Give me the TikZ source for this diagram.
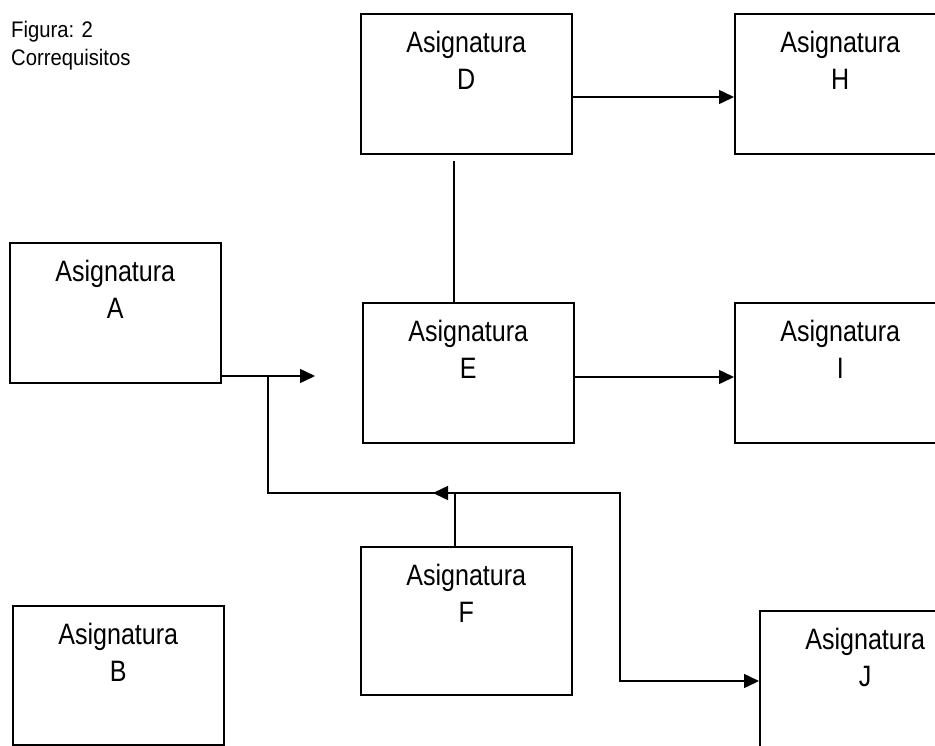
\documentclass[tikz,border=0pt]{standalone}
\usepackage{fontspec}
\setmainfont{Liberation Sans}[FakeStretch=0.85]
\newfontfamily\capfont{Liberation Sans}[FakeStretch=0.9]
\usetikzlibrary{arrows.meta}
\begin{document}
\begin{tikzpicture}[x=1pt,y=-1pt,
  box/.style={draw, line width=1.5pt, minimum width=211pt, minimum height=140pt, inner sep=0pt, anchor=north west},
  lbl/.style={align=center, inner sep=0pt, anchor=north, font=\fontsize{29.5}{36.6}\selectfont},
  captxt/.style={align=left, inner sep=0pt, anchor=north west, font=\capfont\fontsize{22.5}{28.5}\selectfont},
  conn/.style={line width=1.5pt},
  arr/.style={line width=1.5pt, -{Triangle[length=15pt,width=14pt]}}]
\clip (0,0) rectangle (935,745);
\fill[white] (0,0) rectangle (935,745);

\node[captxt] (caption) at (11,20.6) {Figura: 2\\Correquisitos};

\node[box] (A) at (9,242) {};
\node[box, minimum height=139pt] (B) at (12,605) {};
\node[box] (D) at (360,13) {};
\node[box] (E) at (362,302) {};
\node[box, minimum height=148pt] (F) at (360,546) {};
\node[box] (H) at (734,13) {};
\node[box] (I) at (734,302) {};
\node[box] (J) at (759,610) {};

\foreach \n in {A,B,D,E,F,H,I,J}{
  \node[lbl] (\n t) at ([yshift=-17.9pt]\n.north) {Asignatura\\\n};
}

\coordinate (yDH) at (0,97);
\coordinate (yEI) at (0,377);
\draw[arr] (D.east |- yDH) -- (H.west |- yDH);
\draw[arr] (E.east |- yEI) -- (I.west |- yEI);

\coordinate (de1) at (454,161);
\draw[conn] (de1) -- (de1 |- E.north);

\coordinate (aEnd) at (315,376);
\draw[arr] (A.east |- aEnd) -- (aEnd);

\coordinate (j1) at (268,376);
\coordinate (j2) at (268,493);
\coordinate (j3) at (620,493);
\coordinate (j4) at (620,681);
\draw[arr] (j1) -- (j2) -- (j3) -- (j4) -- (J.west |- j4);

\coordinate (fTop) at (455,493);
\coordinate (ahTip) at (433,493);
\draw[conn] (fTop |- F.north) -- (fTop);
\draw[arr] (fTop) -- (ahTip);
\end{tikzpicture}
\end{document}
